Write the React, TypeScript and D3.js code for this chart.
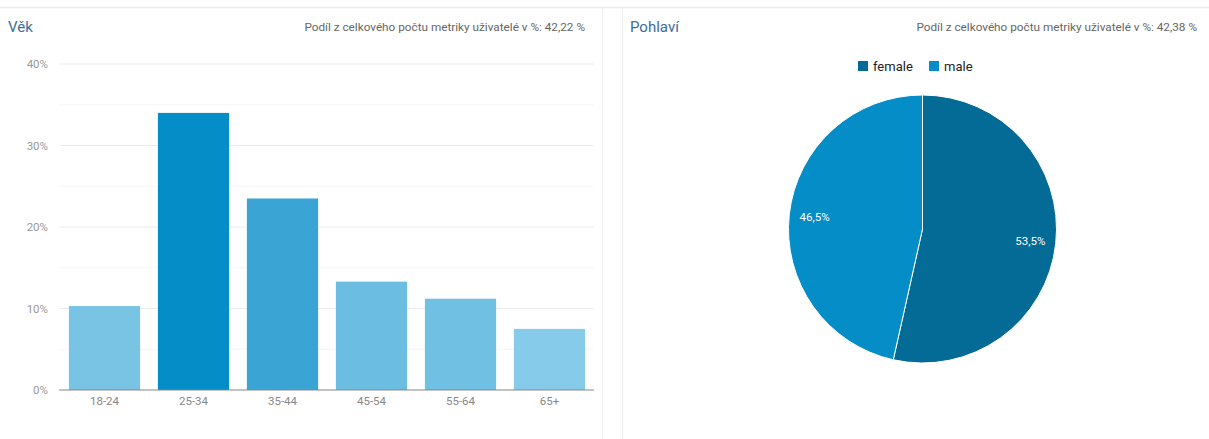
import React from "react";
import * as d3 from "d3";

const ageCategories = ["18-24", "25-34", "35-44", "45-54", "55-64", "65+"];
const ageValues = [10.3, 34.0, 23.5, 13.3, 11.2, 7.5];
const ageColors = ["#79c4e5", "#058dc7", "#3aa5d4", "#6bbde2", "#70c0e3", "#86cbea"];
const yTicks = [0, 10, 20, 30, 40];
const yMinorTicks = [5, 15, 25, 35];

const genderLabels = ["female", "male"];
const genderValues = [53.5, 46.5];
const genderColors = ["#046a96", "#058dc7"];

const W = 1209;
const H = 439;
const FONT = "Roboto, 'Open Sans', Arial, sans-serif";

export default function App() {
  const x = d3.scaleBand<string>().domain(ageCategories).range([60, 594]).paddingInner(0.2).paddingOuter(0.1);
  const y = d3.scaleLinear().domain([0, 40]).range([390, 64]);

  const pie = d3.pie<number>().sort(null).value((d) => d)(genderValues);
  const cx = 922.5, cy = 229, r = 134;
  const arc = d3.arc<d3.PieArcDatum<number>>().innerRadius(0).outerRadius(r);
  const labelArc = d3.arc<d3.PieArcDatum<number>>().innerRadius(r * 0.81).outerRadius(r * 0.81);

  const fmt = (v: number) => v.toFixed(1).replace(".", ",") + "%";

  return (
    <svg width={W} height={H} style={{ position: "absolute", left: 0, top: 0, background: "#fff" }} fontFamily={FONT}>
      <line x1={0} x2={W} y1={7.5} y2={7.5} stroke="#ebebeb" strokeWidth={1.5} />
      <line x1={602.5} x2={602.5} y1={8} y2={H} stroke="#eeeeee" strokeWidth={1} />
      <line x1={622.5} x2={622.5} y1={8} y2={H} stroke="#eeeeee" strokeWidth={1} />

      {/* Left panel */}
      <text x={8} y={32} fontSize={15} fill="#3e6b9a">Věk</text>
      <text x={585} y={31} fontSize={11.75} fill="#666" textAnchor="end">
        Podíl z celkového počtu metriky uživatelé v %: 42,22 %
      </text>
      {yMinorTicks.map((t) => (
        <line key={"m" + t} x1={59} x2={594} y1={y(t)} y2={y(t)} stroke="#f6f6f6" />
      ))}
      {yTicks.map((t) => (
        <g key={t}>
          {t > 0 && <line x1={59} x2={594} y1={y(t)} y2={y(t)} stroke="#ececec" />}
          <text x={48} y={y(t) + 4} fontSize={11.5} fill="#999" textAnchor="end">{t}%</text>
        </g>
      ))}
      {ageCategories.map((c, i) => (
        <rect key={c} x={x(c)} y={y(ageValues[i])} width={x.bandwidth()} height={y(0) - y(ageValues[i])} fill={ageColors[i]} />
      ))}
      <line x1={59} x2={594} y1={y(0)} y2={y(0)} stroke="#888" strokeWidth={1.2} />
      {ageCategories.map((c) => (
        <text key={"l" + c} x={(x(c) as number) + x.bandwidth() / 2} y={405} fontSize={11.5} fill="#888" textAnchor="middle">{c}</text>
      ))}

      {/* Right panel */}
      <text x={630} y={32} fontSize={15} fill="#3e6b9a">Pohlaví</text>
      <text x={1197} y={31} fontSize={11.75} fill="#666" textAnchor="end">
        Podíl z celkového počtu metriky uživatelé v %: 42,38 %
      </text>
      {genderLabels.map((g, i) => {
        const lx = i === 0 ? 858 : 929;
        return (
          <g key={g}>
            <rect x={lx} y={61} width={10} height={10} fill={genderColors[i]} />
            <text x={lx + 15} y={70.5} fontSize={13} fill="#222">{g}</text>
          </g>
        );
      })}
      <g transform={`translate(${cx},${cy})`}>
        {pie.map((p, i) => (
          <path key={i} d={arc(p) || ""} fill={genderColors[i]} stroke="#fff" strokeWidth={1} />
        ))}
        {pie.map((p, i) => {
          const [lx, ly] = labelArc.centroid(p);
          return (
            <text key={"t" + i} x={lx} y={ly + 4} fontSize={11.5} fill="#fff" textAnchor="middle">{fmt(genderValues[i])}</text>
          );
        })}
      </g>
    </svg>
  );
}
